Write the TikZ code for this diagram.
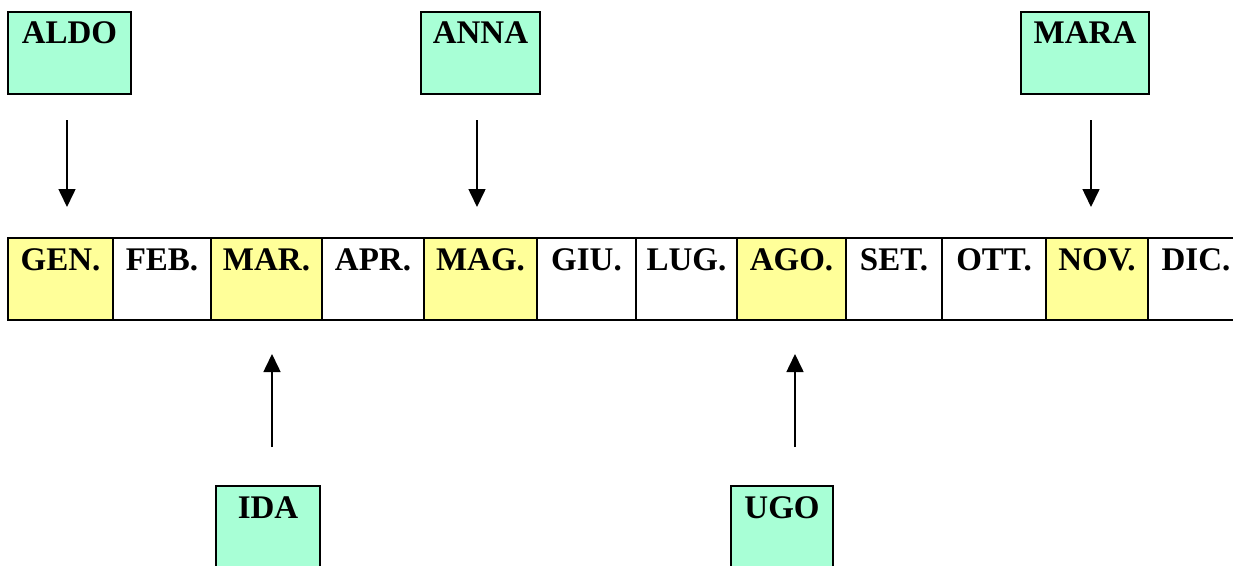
\documentclass[tikz,border=0pt]{standalone}
\usepackage{fontspec}
\setmainfont{Liberation Serif}
\usetikzlibrary{positioning,arrows.meta}

\definecolor{mintgreen}{RGB}{168,255,214}
\definecolor{paleyellow}{RGB}{255,255,153}

\tikzset{
  cell/.style={draw, line width=1.6pt, outer sep=0pt, inner xsep=0pt, inner ysep=0pt,
    minimum height=82pt, text height=32pt, text depth=50pt,
    font=\fontsize{33}{36}\selectfont\bfseries},
  hot/.style={cell, fill=paleyellow},
  who/.style={cell, fill=mintgreen, anchor=north west, text height=31pt, text depth=51pt},
  arr/.style={line width=1.6pt, -{Triangle[width=17pt,length=18pt]}}
}

\begin{document}
\begin{tikzpicture}[x=1pt,y=-1pt]
\clip (0,0) rectangle (1233,565);

% months
\node[hot, minimum width=105pt, anchor=north west] (gen) at (8,238) {GEN.};
\node[cell, minimum width=98pt, right=0pt of gen] (feb) {FEB.};
\node[hot, minimum width=111pt, right=0pt of feb] (mar) {MAR.};
\node[cell, minimum width=102pt, right=0pt of mar] (apr) {APR.};
\node[hot, minimum width=113pt, right=0pt of apr] (mag) {MAG.};
\node[cell, minimum width=99pt, right=0pt of mag] (giu) {GIU.};
\node[cell, minimum width=101pt, right=0pt of giu] (lug) {LUG.};
\node[hot, minimum width=109pt, right=0pt of lug] (ago) {AGO.};
\node[cell, minimum width=96pt, right=0pt of ago] (set) {SET.};
\node[cell, minimum width=104pt, right=0pt of set] (ott) {OTT.};
\node[hot, minimum width=102pt, right=0pt of ott] (nov) {NOV.};
\node[cell, minimum width=96pt, right=0pt of nov] (dic) {DIC.};

% names
\node[who, minimum width=123pt] (aldo) at (8,12) {ALDO};
\node[who, minimum width=119pt] (anna) at (421,12) {ANNA};
\node[who, minimum width=128pt] (mara) at (1021,12) {MARA};
\node[who, minimum width=104pt, text height=32pt, text depth=50pt] (ida) at (216,486) {IDA};
\node[who, minimum width=102pt, text height=32pt, text depth=50pt] (ugo) at (731,486) {UGO};

\draw[arr, shorten <=26pt, shorten >=31pt] ([xshift=-2.5pt]aldo.south) -- ([xshift=-2.5pt]aldo.south |- gen.north);
\draw[arr, shorten <=26pt, shorten >=31pt] ([xshift=-3.5pt]anna.south) -- ([xshift=-3.5pt]anna.south |- mag.north);
\draw[arr, shorten <=26pt, shorten >=31pt] ([xshift=6pt]mara.south) -- ([xshift=6pt]mara.south |- nov.north);
\draw[arr, shorten <=39pt, shorten >=34pt] ([xshift=4pt]ida.north) -- ([xshift=4pt]ida.north |- mar.south);
\draw[arr, shorten <=39pt, shorten >=34pt] ([xshift=13pt]ugo.north) -- ([xshift=13pt]ugo.north |- ago.south);
\end{tikzpicture}
\end{document}
